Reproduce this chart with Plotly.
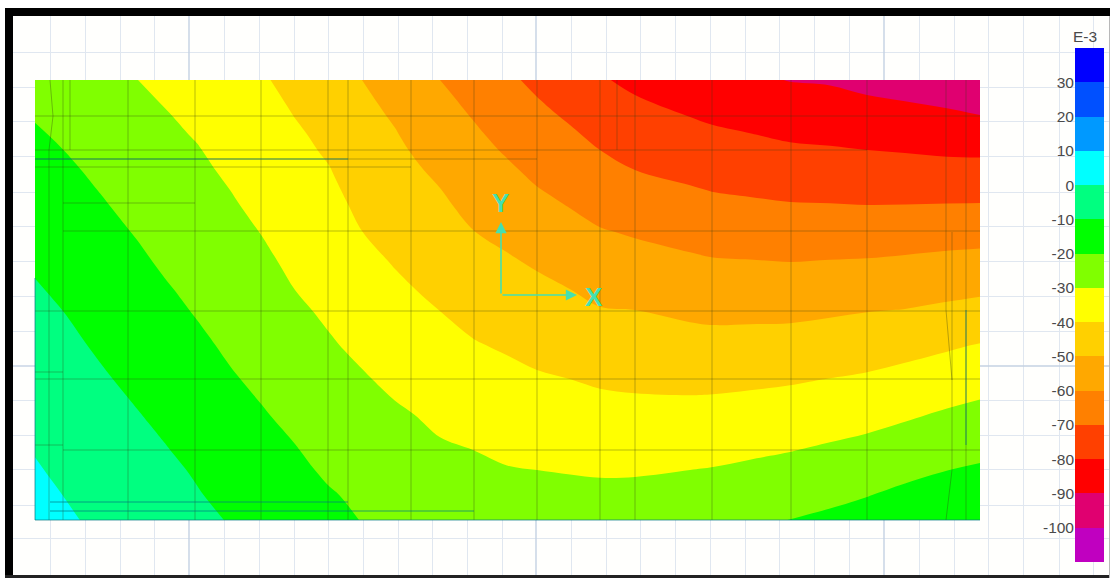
import plotly.graph_objects as go

# ---- data -------------------------------------------------------------
x_stations = [35,65,100,138,165,197,230,262,295,330,362,395,440,473,507,537,570,600,635,690,713,750,790,830,867,905,947,980]
y_stations = [80,95,115,135,150,170,190,205,231,262,290,310,345,380,415,450,470,495,520]

stress = [
 [-22.8,-24.4,-26.7,-30,-31.7,-33.6,-36.3,-39.2,-42.3,-45.1,-50,-53.4,-60,-63.6,-68.4,-71.9,-75.4,-79.1,-82,-85.4,-86.7,-88.4,-90.3,-90.9,-92.7,-94.1,-95.7,-98.3],
 [-21.8,-23.5,-25.8,-29.1,-30.8,-32.7,-35.5,-38.3,-41.4,-44.2,-49,-52.3,-58.6,-62.3,-66.8,-70.2,-73.6,-77.1,-80,-83.2,-84.5,-86,-87.8,-88.4,-90,-91.2,-92.7,-94.8],
 [-20.5,-22.2,-24.6,-27.8,-29.6,-31.6,-34.3,-37.2,-40.2,-43,-47.7,-50.9,-56.8,-60.5,-64.6,-68,-71.2,-74.5,-77.3,-80.3,-81.5,-82.9,-84.5,-85.1,-86.4,-87.3,-88.6,-90],
 [-19.2,-21,-23.5,-26.6,-28.5,-30.5,-33.2,-36,-39,-41.8,-46.4,-49.5,-54.9,-58.6,-62.5,-65.8,-68.8,-71.9,-74.7,-77.4,-78.5,-79.7,-81.2,-81.8,-82.7,-83.5,-84.5,-85.2],
 [-18.3,-20.1,-22.6,-25.7,-27.6,-29.6,-32.3,-35.1,-38.2,-41,-45.4,-48.5,-53.5,-57.3,-60.9,-64.1,-67,-70,-72.7,-75.1,-76.3,-77.4,-78.7,-79.3,-80,-80.6,-81.4,-81.7],
 [-17,-18.8,-21.4,-24.4,-26.4,-28.5,-31.2,-33.9,-37,-39.8,-44,-47,-51.7,-55.5,-58.7,-61.9,-64.6,-67.4,-70,-72.2,-73.3,-74.2,-75.3,-75.8,-76.4,-76.7,-77.2,-77.2],
 [-15.7,-17.6,-20.2,-23.2,-25.2,-27.3,-30,-32.7,-35.8,-38.6,-42.7,-45.6,-49.8,-53.6,-56.6,-59.6,-62.2,-64.8,-67.1,-69.3,-70.3,-71.1,-72,-72.4,-72.7,-72.8,-72.9,-72.8],
 [-14.7,-16.7,-19.3,-22.2,-24.3,-26.5,-29.2,-31.8,-35,-37.7,-41.7,-44.6,-48.6,-52.3,-55,-57.8,-60.4,-62.9,-64.9,-67,-68,-68.7,-69.5,-69.7,-70,-69.9,-69.7,-69.6],
 [-13,-15.1,-17.8,-20.6,-22.8,-25,-27.7,-30.3,-33.4,-36.1,-40,-42.7,-46.5,-49.9,-52.2,-54.7,-57.2,-59.5,-61,-63.1,-64,-64.5,-65.2,-65.2,-65.1,-64.7,-64.1,-63.8],
 [-11,-13.1,-15.9,-18.8,-21,-23.3,-25.9,-28.5,-31.6,-34.3,-37.8,-40.5,-44,-47,-49,-51,-53.4,-55.6,-56.7,-58.6,-59.3,-59.6,-60,-59.6,-59.3,-58.6,-57.7,-57.1],
 [-9.3,-11.4,-14.3,-17.1,-19.3,-21.7,-24.3,-26.8,-30,-32.6,-35.7,-38.5,-41.7,-44.4,-46.3,-48,-49.9,-52.1,-52.8,-54.6,-55.1,-55.3,-55.4,-54.8,-54.1,-53.4,-52.3,-51.4],
 [-8.2,-10.2,-13.1,-15.9,-18.1,-20.6,-23.2,-25.6,-28.7,-31.4,-34.3,-36.9,-40.1,-42.6,-44.3,-46,-47.7,-49.6,-50,-51.7,-52.2,-52.2,-52.1,-51.3,-50.4,-49.8,-48.4,-47.2],
 [-6.3,-8.3,-11,-13.9,-16,-18.5,-21.2,-23.6,-26.4,-29.3,-31.7,-34.3,-37.2,-39.4,-41,-42.5,-43.8,-45.3,-45.8,-46.8,-47.1,-46.8,-46.5,-45.5,-44.5,-43.2,-41.2,-39.6],
 [-4.3,-6.4,-9,-11.8,-13.9,-16.3,-19.2,-21.5,-24.2,-27,-29.2,-31.6,-34.3,-36.2,-37.6,-39,-39.9,-41,-41.6,-42.1,-42,-41.5,-40.8,-39.7,-38.7,-36.9,-34.9,-33.3],
 [-2.4,-4.5,-7.1,-9.7,-11.7,-14.2,-17.2,-19.4,-21.9,-24.7,-26.7,-28.9,-31.4,-33.1,-34.3,-35.5,-36.2,-37,-37.4,-37.3,-37.1,-36.4,-35.5,-34.2,-33,-31.1,-28.9,-27.4],
 [-0.4,-2.6,-5.3,-7.7,-9.6,-12.1,-15.2,-17.4,-19.6,-22.6,-24.8,-27,-29.2,-30,-31,-32,-32.5,-33,-33.2,-32.7,-32.3,-31.4,-30.3,-28.8,-27.3,-25.4,-23.3,-22],
 [0.7,-1.6,-4.2,-6.5,-8.4,-10.8,-14.1,-16.2,-18.3,-21.3,-23.3,-25.5,-28,-29.4,-29.7,-30,-30.4,-30.8,-30.8,-30,-29.6,-28.5,-27.3,-25.8,-24.2,-22.2,-20.1,-18.9],
 [2.1,-0.2,-2.8,-5,-6.9,-9.5,-12,-14.7,-16.7,-19.4,-21.5,-24.2,-26.4,-27.8,-28,-28.2,-28.2,-28.2,-27.9,-26.7,-26.2,-25,-23.6,-22,-20.3,-18.1,-16.2,-15.1],
 [3.4,1.1,-1.5,-3.6,-5.4,-8.7,-10.3,-13.3,-15.1,-18.1,-20.2,-22,-24.4,-25.4,-25.8,-26,-26,-25.8,-25.2,-23.3,-22.7,-21.4,-19.9,-18.3,-16.4,-14.1,-12.2,-11.2],
]

band_colors = ["#C000C0","#E00070","#FF0000","#FF4000","#FF8000","#FFA800","#FFD000",
               "#FFFF00","#80FF00","#00FF00","#00FF80","#00FFFF","#0099FF","#0050FF","#0000FF"]
band_mids = [-105,-95,-85,-75,-65,-55,-45,-35,-25,-15,-5,5,15,25,35]
tick_values = [30,20,10,0,-10,-20,-30,-40,-50,-60,-70,-80,-90,-100]
level_min, level_max, level_step = -110, 40, 10

paper_grid_x = [50,85,120,154,224,259,294,328,363,398,432,467,502,571,606,640,675,710,745,779,814,849,919,954,988,1023,1059,1093]
paper_grid_y = [52,87,121,156,192,226,261,296,331,400,435,469,505,538]
major_grid_x = [189,536,884]
major_grid_y = [366]

mesh_v = [
 ([50,53,49,49],[80,116,150,520]),([63,63],[80,520]),([70,70],[80,150]),([128,128],[80,520]),
 ([195,195],[80,520]),([261,261],[80,520]),([328,328],[80,520]),([348,348],[80,520]),
 ([411,411],[80,520]),([474,474],[80,520]),([537,537],[80,520]),([600,600],[80,520]),
 ([617,617],[80,150]),([635,635],[80,520]),([712,712],[80,520]),([791,791],[80,520]),
 ([867,867],[80,520]),([946,946,952,952,946],[80,310,380,470,520]),([952,952],[232,380]),([966,966],[80,520]),
]
mesh_h = [
 ([35,980],[116,116]),([35,867],[150,150]),([35,537],[159,159]),([35,411],[167,167]),
 ([63,195],[203,203]),([63,980],[231,231]),([35,980],[311,311]),([35,980],[379,379]),
 ([35,63],[372,372]),([35,63],[445,445]),([63,980],[450,450]),
]
teal_lines = [
 ([35,348],[159,159]),([50,348],[502,502]),([50,474],[511,511]),([966,966],[310,445]),
 ([35,980],[520,520]),([35,35],[278,520]),
]
axis_color = "#45E0B0"
origin = (501,295); y_tip = (501,222); x_tip = (577,295)
y_label_pos = (500,203); x_label_pos = (594,297)

W, H = 1110, 578
bar_left, bar_right, bar_top, bar_bottom = 1075, 1104, 48, 562

# ---- helpers ----------------------------------------------------------
def join(segs):
    xs, ys = [], []
    for a, b in segs:
        xs += list(a) + [None]; ys += list(b) + [None]
    return xs, ys

n = len(band_colors)
scale = []
for i, c in enumerate(band_colors):
    scale += [[i/n, c], [(i+1)/n, c]]

fig = go.Figure()
fig.add_trace(go.Contour(
    x=x_stations, y=y_stations, z=stress,
    zmin=level_min, zmax=level_max, autocontour=False,
    contours=dict(start=level_min, end=level_max, size=level_step, coloring="fill", showlines=False),
    line=dict(width=0, smoothing=1), colorscale=scale, hoverinfo="skip", showscale=False,
))
fig.add_trace(go.Heatmap(
    x=[0], y=band_mids, z=[[m] for m in band_mids], xaxis="x2", yaxis="y2",
    zmin=level_min, zmax=level_max, colorscale=scale, showscale=False, hoverinfo="skip",
))

gx, gy = join([([x,x],[16,80]) for x in major_grid_x] + [([x,x],[520,575]) for x in major_grid_x]
              + [([13,35],[y,y]) for y in major_grid_y] + [([980,1109],[y,y]) for y in major_grid_y])
fig.add_trace(go.Scatter(x=gx, y=gy, mode="lines", line=dict(color="#c4d2e2", width=1.4), hoverinfo="skip", showlegend=False))
mx, my = join(mesh_v + mesh_h)
fig.add_trace(go.Scatter(x=mx, y=my, mode="lines", line=dict(color="rgba(50,60,20,0.34)", width=1), hoverinfo="skip", showlegend=False))
tx, ty = join(teal_lines)
fig.add_trace(go.Scatter(x=tx, y=ty, mode="lines", line=dict(color="rgba(0,120,130,0.7)", width=1), hoverinfo="skip", showlegend=False))

for tip in (y_tip, x_tip):
    fig.add_annotation(x=tip[0], y=tip[1], ax=origin[0], ay=origin[1], xref="x", yref="y", axref="x", ayref="y",
                       text="", showarrow=True, arrowhead=2, arrowsize=1.4, arrowwidth=1.6, arrowcolor=axis_color)
fig.add_annotation(x=y_label_pos[0], y=y_label_pos[1], text="<b>Y</b>", showarrow=False,
                   font=dict(family="Liberation Sans", size=26, color=axis_color))
fig.add_annotation(x=x_label_pos[0], y=x_label_pos[1], text="<b>X</b>", showarrow=False,
                   font=dict(family="Liberation Sans", size=26, color=axis_color))
fig.add_annotation(x=1085, y=36, text="E-3", showarrow=False,
                   font=dict(family="Liberation Sans", size=15.5, color="#4a4a4a"))

grid_style = dict(showgrid=True, gridcolor="#e0e7f0", gridwidth=1, zeroline=False, showline=False,
                  showticklabels=False, ticks="", tickmode="array")
fig.update_layout(
    width=W, height=H, margin=dict(l=0, r=0, t=0, b=0, autoexpand=False), autosize=False,
    paper_bgcolor="white", plot_bgcolor="#fffffd", showlegend=False,
    xaxis=dict(range=[0,W], tickvals=paper_grid_x, **grid_style),
    yaxis=dict(range=[H,0], tickvals=paper_grid_y, **grid_style),
    xaxis2=dict(domain=[bar_left/W, bar_right/W], range=[-0.5,0.5], visible=False, anchor="y2"),
    yaxis2=dict(domain=[1-bar_bottom/H, 1-bar_top/H], range=[level_min, level_max], anchor="x2", side="left",
                tickmode="array", tickvals=tick_values, ticktext=[str(v) for v in tick_values],
                ticks="", ticklen=0, showgrid=False, zeroline=False, showline=False,
                tickfont=dict(family="Liberation Sans", size=15.5, color="#4a4a4a")),
    shapes=[
        dict(type="rect", xref="x", yref="y", x0=0, x1=W, y0=0, y1=8, fillcolor="white", line_width=0, layer="above"),
        dict(type="rect", xref="x", yref="y", x0=0, x1=5, y0=0, y1=H, fillcolor="white", line_width=0, layer="above"),
        dict(type="rect", xref="x", yref="y", x0=5, x1=W, y0=8, y1=16, fillcolor="black", line_width=0, layer="above"),
        dict(type="rect", xref="x", yref="y", x0=5, x1=13, y0=8, y1=H, fillcolor="black", line_width=0, layer="above"),
        dict(type="rect", xref="x", yref="y", x0=5, x1=W, y0=575, y1=H, fillcolor="#222222", line_width=0, layer="above"),
        dict(type="rect", xref="x", yref="y", x0=1109, x1=W, y0=16, y1=H, fillcolor="#b8b8b8", line_width=0, layer="above"),
    ],
)
fig.write_html("out.html", config=dict(displayModeBar=False),
               post_script="document.body.style.margin='0';document.body.style.overflow='hidden';")
